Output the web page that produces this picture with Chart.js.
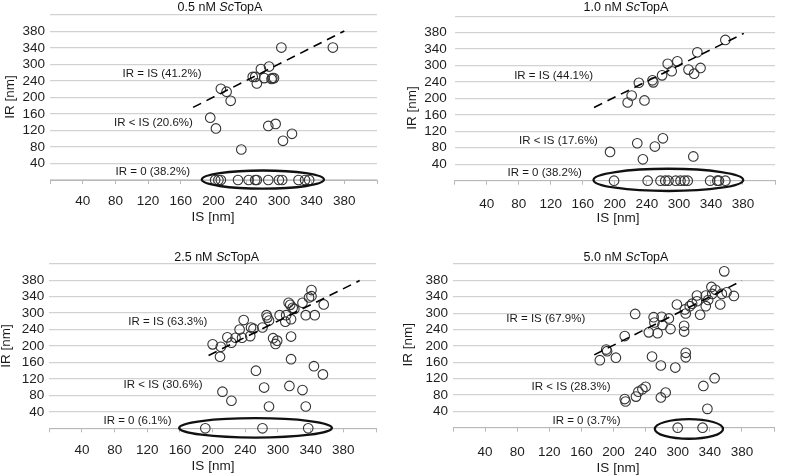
<!DOCTYPE html>
<html><head><meta charset="utf-8">
<script src="https://cdn.jsdelivr.net/npm/chart.js@4.4.1/dist/chart.umd.min.js"></script>
<style>
html,body{margin:0;padding:0;background:#fff;width:786px;height:476px;overflow:hidden}
canvas{position:absolute;display:block}
</style></head><body>
<canvas id="c1" width="393" height="238" style="left:0;top:0"></canvas>
<canvas id="c2" width="393" height="238" style="left:393px;top:0"></canvas>
<canvas id="c3" width="393" height="238" style="left:0;top:238px"></canvas>
<canvas id="c4" width="393" height="238" style="left:393px;top:238px"></canvas>
<script>
// ---- tick labels as printed on both axes (gridline every 40 nm) ----
const tickLabels = ['', '40', '80', '120', '160', '200', '240', '300', '340', '380', ''];

// ---- panel titles ----
const titleParts = [
  ['0.5 nM ', 'Sc', 'TopA'],
  ['1.0 nM ', 'Sc', 'TopA'],
  ['2.5 nM ', 'Sc', 'TopA'],
  ['5.0 nM ', 'Sc', 'TopA']
];

// ---- 0.5 nM ScTopA ----
const is05 = [283, 346, 268, 258, 248, 251, 262, 272, 274, 271, 253, 209, 216, 221,
              196, 203, 267, 276, 296, 285, 234,
              202, 206, 209, 230, 243, 251, 253, 267, 280, 284, 304, 312, 317];
const ir05 = [321, 321, 275, 269, 250, 250, 247, 247, 247, 245, 234, 221, 214, 192,
              151, 125, 131, 136, 112, 95, 74,
              0, 0, 0, 0, 0, 0, 0, 0, 0, 0, 0, 0, 0];
const fitIS05 = [175, 360];
const fitIR05 = [176, 361];
const notes05 = ['IR = IS (41.2%)', 'IR < IS (20.6%)', 'IR = 0 (38.2%)'];

// ---- 1.0 nM ScTopA ----
const is10 = [338, 303, 278, 266, 271, 292, 307, 299, 259, 247, 248, 230, 221, 216, 237,
              194, 228, 260, 250, 235, 298,
              199, 241, 257, 263, 267, 276, 282, 287, 291, 319, 328, 330, 338];
const ir10 = [342, 312, 290, 284, 266, 270, 274, 260, 256, 244, 239, 238, 207, 190, 195,
              70, 91, 103, 83, 52, 59,
              0, 0, 0, 0, 0, 0, 0, 0, 0, 0, 0, 0, 0];
const fitIS10 = [174, 361];
const fitIR10 = [178, 358];
const notes10 = ['IR = IS (44.1%)', 'IR < IS (17.6%)', 'IR = 0 (38.2%)'];

// ---- 2.5 nM ScTopA ----
const is25 = [321, 321, 310, 293, 295, 298, 336, 314, 325, 282, 290, 296, 289, 266, 267, 269,
              238, 233, 247, 250, 261, 246, 236, 228, 218, 223, 200, 210, 209, 300, 318,
              274, 279, 277, 296, 296, 324, 335, 253, 294, 263, 310, 212, 223, 269, 314,
              191, 261, 317];
const ir25 = [336, 321, 305, 305, 300, 293, 301, 275, 275, 275, 275, 265, 259, 275, 269, 262,
              263, 240, 245, 242, 245, 224, 220, 220, 221, 208, 204, 198, 174, 290, 318,
              219, 213, 205, 223, 168, 151, 131, 140, 103, 99, 93, 89, 67, 53, 53,
              0, 0, 0];
const fitIS25 = [195, 380];
const fitIR25 = [177, 359];
const notes25 = ['IR = IS (63.3%)', 'IR < IS (30.6%)', 'IR = 0 (6.1%)'];

// ---- 5.0 nM ScTopA ----
const is50 = [338, 322, 323, 335, 350, 333, 315, 304, 298, 304, 295, 315, 308, 279, 289, 290,
              327, 341, 318,
              227, 250, 260, 269, 251, 261, 271, 288, 288, 244, 255, 214, 191, 192,
              183, 203, 248, 259, 277, 290, 290,
              240, 236, 231, 228, 214, 215, 265, 259, 312, 326, 317,
              280, 311];
const ir50 = [382, 344, 327, 327, 322, 301, 323, 323, 303, 309, 297, 297, 276, 301, 289, 279,
              337, 331, 312,
              278, 270, 271, 267, 257, 251, 241, 249, 235, 233, 231, 224, 191, 187,
              165, 171, 174, 152, 147, 183, 172,
              100, 94, 88, 76, 70, 64, 86, 74, 102, 121, 46,
              0, 0];
const fitIS50 = [176, 360];
const fitIR50 = [178, 359];
const notes50 = ['IR = IS (67.9%)', 'IR < IS (28.3%)', 'IR = 0 (3.7%)'];

const FONT = '"Liberation Sans", Arial, sans-serif';

const decorPlugin = {
  id: 'decor',
  afterDatasetsDraw(chart, args, o) {
    const ctx = chart.ctx, xs = chart.scales.x, ys = chart.scales.y;
    ctx.save();
    // ellipse around IR = 0 group
    const e = o.ellipse;
    const cx = xs.getPixelForValue(e.cx), cy = ys.getPixelForValue(e.cy);
    const rx = Math.abs(xs.getPixelForValue(e.cx + e.rx) - cx);
    const ry = Math.abs(ys.getPixelForValue(e.cy + e.ry) - cy);
    ctx.beginPath();
    ctx.ellipse(cx, cy, rx, ry, 0, 0, Math.PI * 2);
    ctx.lineWidth = 2.3;
    ctx.strokeStyle = '#111';
    ctx.stroke();
    // notes
    ctx.fillStyle = '#1a1a1a';
    ctx.font = '11.5px ' + FONT;
    ctx.textAlign = 'center';
    ctx.textBaseline = 'middle';
    o.notes.forEach((t, i) => {
      const p = o.notePos[i];
      ctx.fillText(t, xs.getPixelForValue(p[0]), ys.getPixelForValue(p[1]));
    });
    // panel title (with italic "Sc")
    const fonts = ['12.5px ' + FONT, 'italic 12.5px ' + FONT, '12.5px ' + FONT];
    let w = 0;
    o.title.forEach((s, i) => { ctx.font = fonts[i]; w += ctx.measureText(s).width; });
    let x = o.titlePos[0] - w / 2;
    ctx.textAlign = 'left';
    ctx.fillStyle = '#111';
    o.title.forEach((s, i) => { ctx.font = fonts[i]; ctx.fillText(s, x, o.titlePos[1]); x += ctx.measureText(s).width; });
    // axis titles
    ctx.font = '13.5px ' + FONT;
    ctx.textAlign = 'center';
    ctx.fillStyle = '#1a1a1a';
    ctx.fillText('IS [nm]', o.xTitlePos[0], o.xTitlePos[1]);
    ctx.translate(o.yTitlePos[0], o.yTitlePos[1]);
    ctx.rotate(-Math.PI / 2);
    ctx.fillText('IR [nm]', 0, 0);
    ctx.restore();
  }
};

const panels = [
  { id: 'c1', is: is05, ir: ir05, fx: fitIS05, fy: fitIR05, notes: notes05, title: titleParts[0],
    area: { left: 50, right: 16, top: 15, bottom: 58 }, xPad: 9, yPad: 5,
    notePos: [[137, 257], [126.5, 139], [125.7, 18.6]],
    ellipse: { cx: 260.4, cy: 1, rx: 74.7, ry: 22 },
    titlePos: [220, 7.5], yTitlePos: [10.3, 97], xTitlePos: [213, 217] },
  { id: 'c2', is: is10, ir: ir10, fx: fitIS10, fy: fitIR10, notes: notes10, title: titleParts[1],
    area: { left: 61.7, right: 6.3, top: 14, bottom: 57.3 }, xPad: 11, yPad: 8,
    notePos: [[123.5, 256], [129.6, 96], [112.4, 20]],
    ellipse: { cx: 266.8, cy: 2, rx: 93.5, ry: 27 },
    titlePos: [233, 7.5], yTitlePos: [19.5, 108], xTitlePos: [225, 218] },
  { id: 'c3', is: is25, ir: ir25, fx: fitIS25, fy: fitIR25, notes: notes25, title: titleParts[2],
    area: { left: 49.3, right: 17, top: 25.7, bottom: 47.7 }, xPad: 10, yPad: 5,
    notePos: [[145.1, 258.3], [139.2, 104.5], [108, 18.6]],
    ellipse: { cx: 252.5, cy: 1, rx: 93.5, ry: 23.5 },
    titlePos: [216.7, 20], yTitlePos: [6.7, 108], xTitlePos: [213, 228.3] },
  { id: 'c4', is: is50, ir: ir50, fx: fitIS50, fy: fitIR50, notes: notes50, title: titleParts[3],
    area: { left: 60, right: 5.3, top: 26, bottom: 48.3 }, xPad: 12, yPad: 5,
    notePos: [[115.6, 265.6], [147.1, 99.4], [166.4, 17.9]],
    ellipse: { cx: 294, cy: -3, rx: 42.5, ry: 24 },
    titlePos: [233, 20], yTitlePos: [15, 106.7], xTitlePos: [225, 230] }
];

const tickCb = (v) => tickLabels[Math.round(v / 40)];

panels.forEach(p => {
  new Chart(document.getElementById(p.id), {
    type: 'scatter',
    data: {
      datasets: [
        {
          type: 'line',
          data: p.fx.map((x, i) => ({ x: x, y: p.fy[i] })),
          borderColor: '#000', borderWidth: 1.6, borderDash: [9, 6],
          pointRadius: 0, fill: false, clip: false
        },
        {
          data: p.is.map((x, i) => ({ x: x, y: p.ir[i] })),
          pointRadius: 4.8, pointBorderWidth: 1.1,
          borderColor: '#333', backgroundColor: 'rgba(0,0,0,0)',
          pointBackgroundColor: 'rgba(0,0,0,0)', clip: false
        }
      ]
    },
    options: {
      responsive: false,
      animation: false,
      events: [],
      layout: { padding: { left: 0, right: p.area.right, top: p.area.top, bottom: 0 } },
      plugins: {
        legend: { display: false },
        tooltip: { enabled: false },
        decor: p
      },
      scales: {
        x: {
          type: 'linear', min: 0, max: 400,
          afterFit: (s) => { s.height = p.area.bottom; },
          ticks: { stepSize: 40, autoSkip: false, maxRotation: 0, padding: p.xPad, callback: tickCb,
                   color: '#1e1e1e', font: { family: FONT, size: 13.5 } },
          grid: { drawOnChartArea: false, drawTicks: true, tickLength: 4, color: '#b8b8b8' },
          border: { display: true, color: '#b8b8b8', width: 1 }
        },
        y: {
          type: 'linear', min: 0, max: 400,
          afterFit: (s) => { s.width = p.area.left; },
          ticks: { stepSize: 40, autoSkip: false, padding: p.yPad, callback: tickCb,
                   color: '#1e1e1e', font: { family: FONT, size: 13.5 } },
          grid: { drawTicks: false, color: '#d2d2d2', lineWidth: 1.2 },
          border: { display: false }
        }
      }
    },
    plugins: [decorPlugin]
  });
});
</script>
</body></html>
